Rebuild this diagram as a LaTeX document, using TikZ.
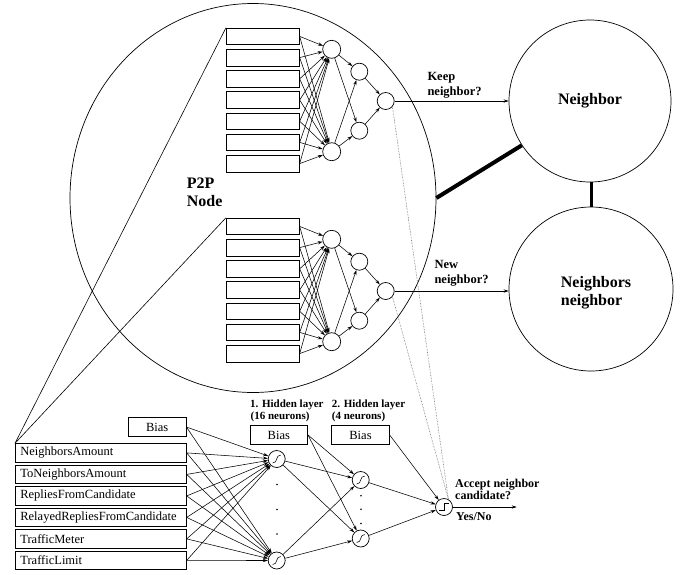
\documentclass[tikz,border=0pt]{standalone}
\usepackage{fontspec}
\setmainfont{Liberation Serif}
\usetikzlibrary{arrows.meta,shapes.geometric,calc}
\newcommand{\fIn}{\fontsize{12.5}{14}\selectfont}
\newcommand{\fLb}{\fontsize{12.5}{14}\selectfont\bfseries}
\newcommand{\fHl}{\fontsize{11}{12}\selectfont\bfseries}
\newcommand{\fAc}{\fontsize{12}{13}\selectfont\bfseries}
\newcommand{\fBig}{\fontsize{16}{17.6}\selectfont\bfseries}
\begin{document}
\begin{tikzpicture}[x=1pt,y=-1pt,
  arr/.style={-{Stealth[length=5pt,width=3.2pt]}, line width=0.55pt},
  tbox/.style={draw, line width=0.7pt, minimum width=73pt, minimum height=16.7pt, inner sep=0pt, anchor=north west},
  inbox/.style={draw, line width=0.7pt, text width=161pt, inner xsep=5pt, inner ysep=0pt, minimum height=18.5pt, align=left, font=\fIn, anchor=north west},
  biasbox/.style={draw, line width=0.7pt, minimum width=57.7pt, minimum height=19pt, inner sep=0pt, font=\fIn},
  neuron/.style={draw, circle, line width=0.7pt, minimum size=#1, inner sep=0pt},
  sig/.style={path picture={\draw[line width=0.55pt] ([xshift=-4pt,yshift=-4pt]path picture bounding box.center) .. controls +(5.5pt,0pt) and +(-5.5pt,0pt) .. ([xshift=4pt,yshift=4pt]path picture bounding box.center);}},
  stepfn/.style={path picture={\draw[line width=0.6pt] ([xshift=-5pt,yshift=-3.5pt]path picture bounding box.center) -- ++(5pt,0pt) -- ++(0pt,7pt) -- ++(5pt,0pt);}},
  txt/.style={inner sep=0pt, anchor=base west}
]
\useasboundingbox (0,0) rectangle (686,574);

% P2P node ellipse
\node[draw, ellipse, minimum width=366pt, minimum height=389pt, inner sep=0pt, line width=0.7pt] (p2p) at (253,198) {};

% neighbor circles
\node[draw, circle, minimum size=162pt, inner sep=0pt, line width=0.7pt, font=\fBig] (nb) at (590,101) {Neighbor};
\node[draw, circle, minimum size=164pt, inner sep=0pt, line width=0.7pt] (nn) at (591,289) {};
\node[txt, font=\fBig] (nnt1) at (560.7,287.5) {Neighbors};
\node[txt, font=\fBig] (nnt2) at (560.7,305) {neighbor};

% two small networks inside the P2P node
\foreach \k/\dy in {t/0,b/190}{
  \foreach \i in {0,...,6}
    \node[tbox] (\k b\i) at (226,{27.7+21.2*\i+\dy}) {};
  \node[neuron=18pt] (\k h1) at (331.7,{49.3+\dy}) {};
  \node[neuron=18pt] (\k h2) at (331.7,{151.7+\dy}) {};
  \node[neuron=17pt] (\k g1) at (359.3,{71.7+\dy}) {};
  \node[neuron=17pt] (\k g2) at (359.3,{130.7+\dy}) {};
  \node[neuron=17pt] (\k o) at (385.7,{101+\dy}) {};
  \foreach \i in {0,...,6}{
    \draw[arr] (\k b\i.east) -- (\k h1);
    \draw[arr] (\k b\i.east) -- (\k h2);
  }
  \foreach \a in {1,2}{
    \draw[arr] (\k h\a) -- (\k g1);
    \draw[arr] (\k h\a) -- (\k g2);
    \draw[arr] (\k g\a) -- (\k o);
  }
}

% labels P2P Node
\node[txt, font=\fBig] (p2pa) at (186.7,188.3) {P2P};
\node[txt, font=\fBig] (p2pb) at (186.7,206) {Node};

% outputs to neighbor circles
\draw[arr] (to.east) -- (nb.west);
\draw[arr] (bo.east) -- (bo.east -| nn.west);
\node[txt, font=\fLb] (keep1) at (427.3,80.7) {Keep};
\node[txt, font=\fLb] (keep2) at (427.3,95) {neighbor?};
\node[txt, font=\fLb] (new1) at (434.3,268.3) {New};
\node[txt, font=\fLb] (new2) at (434.3,283.3) {neighbor?};

% thick links
\draw[line width=4pt] (p2p.east) -- (nb.213);
\draw[line width=3pt] (nn.north |- nb.south) -- (nn.north);

% detailed network
\node[biasbox] (ib) at (157.2,427) {Bias};
\node[inbox] (in1) at (15,443.3) {NeighborsAmount};
\node[inbox] (in2) at (15,464.8) {ToNeighborsAmount};
\node[inbox] (in3) at (15,486.3) {RepliesFromCandidate};
\node[inbox] (in4) at (15,507.8) {RelayedRepliesFromCandidate};
\node[inbox] (in5) at (15,529.3) {TrafficMeter};
\node[inbox] (in6) at (15,550.8) {TrafficLimit};

\draw[line width=0.6pt] (tb0.north west) -- (in1.north west);
\draw[line width=0.6pt] (bb0.north west) -- (in1.north west);

\node[neuron=17pt, sig] (a1) at (276.7,459) {};
\node[neuron=17pt, sig] (a2) at (276.7,560.5) {};
\node[neuron=17pt, sig] (c1) at (360.7,480) {};
\node[neuron=17pt, sig] (c2) at (360.7,538.5) {};
\node[neuron=17pt, stepfn] (ao) at (444,507) {};

\node[biasbox] (bias1) at (278.8,435) {Bias};
\node[biasbox] (bias2) at (360.5,435) {Bias};

\node[txt, font=\fHl] (hl1a) at (250,407.3) {1. Hidden layer};
\node[txt, font=\fHl] (hl1b) at (250.5,419.3) {(16 neurons)};
\node[txt, font=\fHl] (hl2a) at (331.7,407.3) {2. Hidden layer};
\node[txt, font=\fHl] (hl2b) at (331.7,419.3) {(4 neurons)};

\foreach \s in {ib,in1,in2,in3,in4,in5,in6}{
  \draw[arr] (\s.east) -- (a1);
  \draw[arr] (\s.east) -- (a2);
}
\draw[arr] (bias1.east) -- (c1);
\draw[arr] (bias1.east) -- (c2);
\foreach \a in {1,2}{
  \draw[arr] (a\a) -- (c1);
  \draw[arr] (a\a) -- (c2);
  \draw[arr] (c\a) -- (ao);
}
\draw[arr] (bias2.east) -- (ao);

\foreach \y in {484.5,509.5,534} \fill (277,\y) circle (0.9pt);
\foreach \y in {495.7,509.3,523.5} \fill (361,\y) circle (0.9pt);

% dotted links from the small networks
\draw[densely dotted, line width=0.55pt, black!65] (to.-40) -- (ao.60);
\draw[densely dotted, line width=0.55pt, black!65] (bo.-40) -- (ao.60);

\coordinate (yn) at (516.7,507);
\draw[arr] (ao.east) -- (yn);
\node[txt, font=\fAc] (acc1) at (455,487.3) {Accept neighbor};
\node[txt, font=\fAc] (acc2) at (455,499.5) {candidate?};
\node[txt, font=\fAc] (yesno) at (456,520.3) {Yes/No};
\end{tikzpicture}
\end{document}
